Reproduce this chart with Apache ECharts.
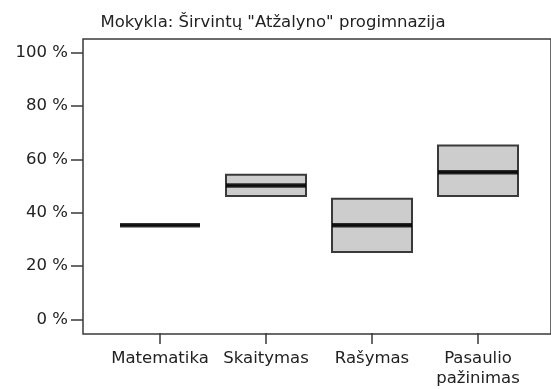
<!DOCTYPE html>
<html>
<head>
<meta charset="utf-8">
<script src="https://cdn.jsdelivr.net/npm/echarts@6/dist/echarts.min.js"></script>
<style>
  html, body { margin: 0; padding: 0; background: #fff; }
  #chart { width: 551px; height: 389px; }
</style>
</head>
<body>
<div id="chart"></div>
<script>
// School subjects and their score distributions (percent)
const titleText = 'Mokykla: Širvintų "Atžalyno" progimnazija';
const subjects = ['Matematika', 'Skaitymas', 'Rašymas', 'Pasaulio\npažinimas'];
// [min, Q1, median, Q3, max]
const boxValues = [
  [35, 35, 35, 35, 35],
  [46, 46, 50, 54, 54],
  [25, 25, 35, 45, 45],
  [46, 46, 55, 65, 65]
];
const medians = boxValues.map(b => b[2]);
const yTicks = [0, 20, 40, 60, 80, 100];
const yMin = -5.5, yMax = 105.1;

const font = '"DejaVu Sans", sans-serif';
const ink = '#3a3a3a';
const textColor = '#222';

const chart = echarts.init(document.getElementById('chart'));
chart.setOption({
  animation: false,
  backgroundColor: '#fff',
  title: {
    text: titleText,
    left: 268, textAlign: 'center', top: 9,
    textStyle: { fontFamily: font, fontSize: 16.5, fontWeight: 'normal', color: textColor }
  },
  grid: [
    { left: 107, right: 20, top: 39, bottom: 55 },
    { left: 83, right: -3, top: 39, bottom: 55, show: true, borderColor: ink, borderWidth: 1.5, backgroundColor: 'transparent' }
  ],
  xAxis: [
    {
      type: 'category', gridIndex: 0, data: subjects,
      axisLine: { show: false, onZero: false },
      axisTick: { show: true, alignWithLabel: true, interval: 0, length: 11, lineStyle: { color: ink, width: 1.5 } },
      axisLabel: { interval: 0, fontFamily: font, fontSize: 16.5, color: textColor, margin: 16, lineHeight: 20 }
    },
    { type: 'value', gridIndex: 1, show: false, min: 0, max: 1 }
  ],
  yAxis: [
    { type: 'value', gridIndex: 0, min: yMin, max: yMax, show: false },
    {
      type: 'value', gridIndex: 1, min: yMin, max: yMax,
      axisLine: { show: false },
      splitLine: { show: false },
      axisTick: { show: true, length: 12, customValues: yTicks, lineStyle: { color: ink, width: 1.5 } },
      axisLabel: { customValues: yTicks, formatter: '{value} %', fontFamily: font, fontSize: 16.5, color: textColor, margin: 15 }
    }
  ],
  series: [
    {
      type: 'boxplot', xAxisIndex: 0, yAxisIndex: 0,
      data: boxValues,
      boxWidth: [80, 80],
      itemStyle: { color: '#cdcdcd', borderColor: ink, borderWidth: 2 },
      emphasis: { disabled: true }
    },
    {
      type: 'scatter', xAxisIndex: 0, yAxisIndex: 0,
      data: medians,
      symbol: 'rect', symbolSize: [80, 4.5],
      itemStyle: { color: '#000' },
      emphasis: { disabled: true }
    }
  ]
});
</script>
</body>
</html>
